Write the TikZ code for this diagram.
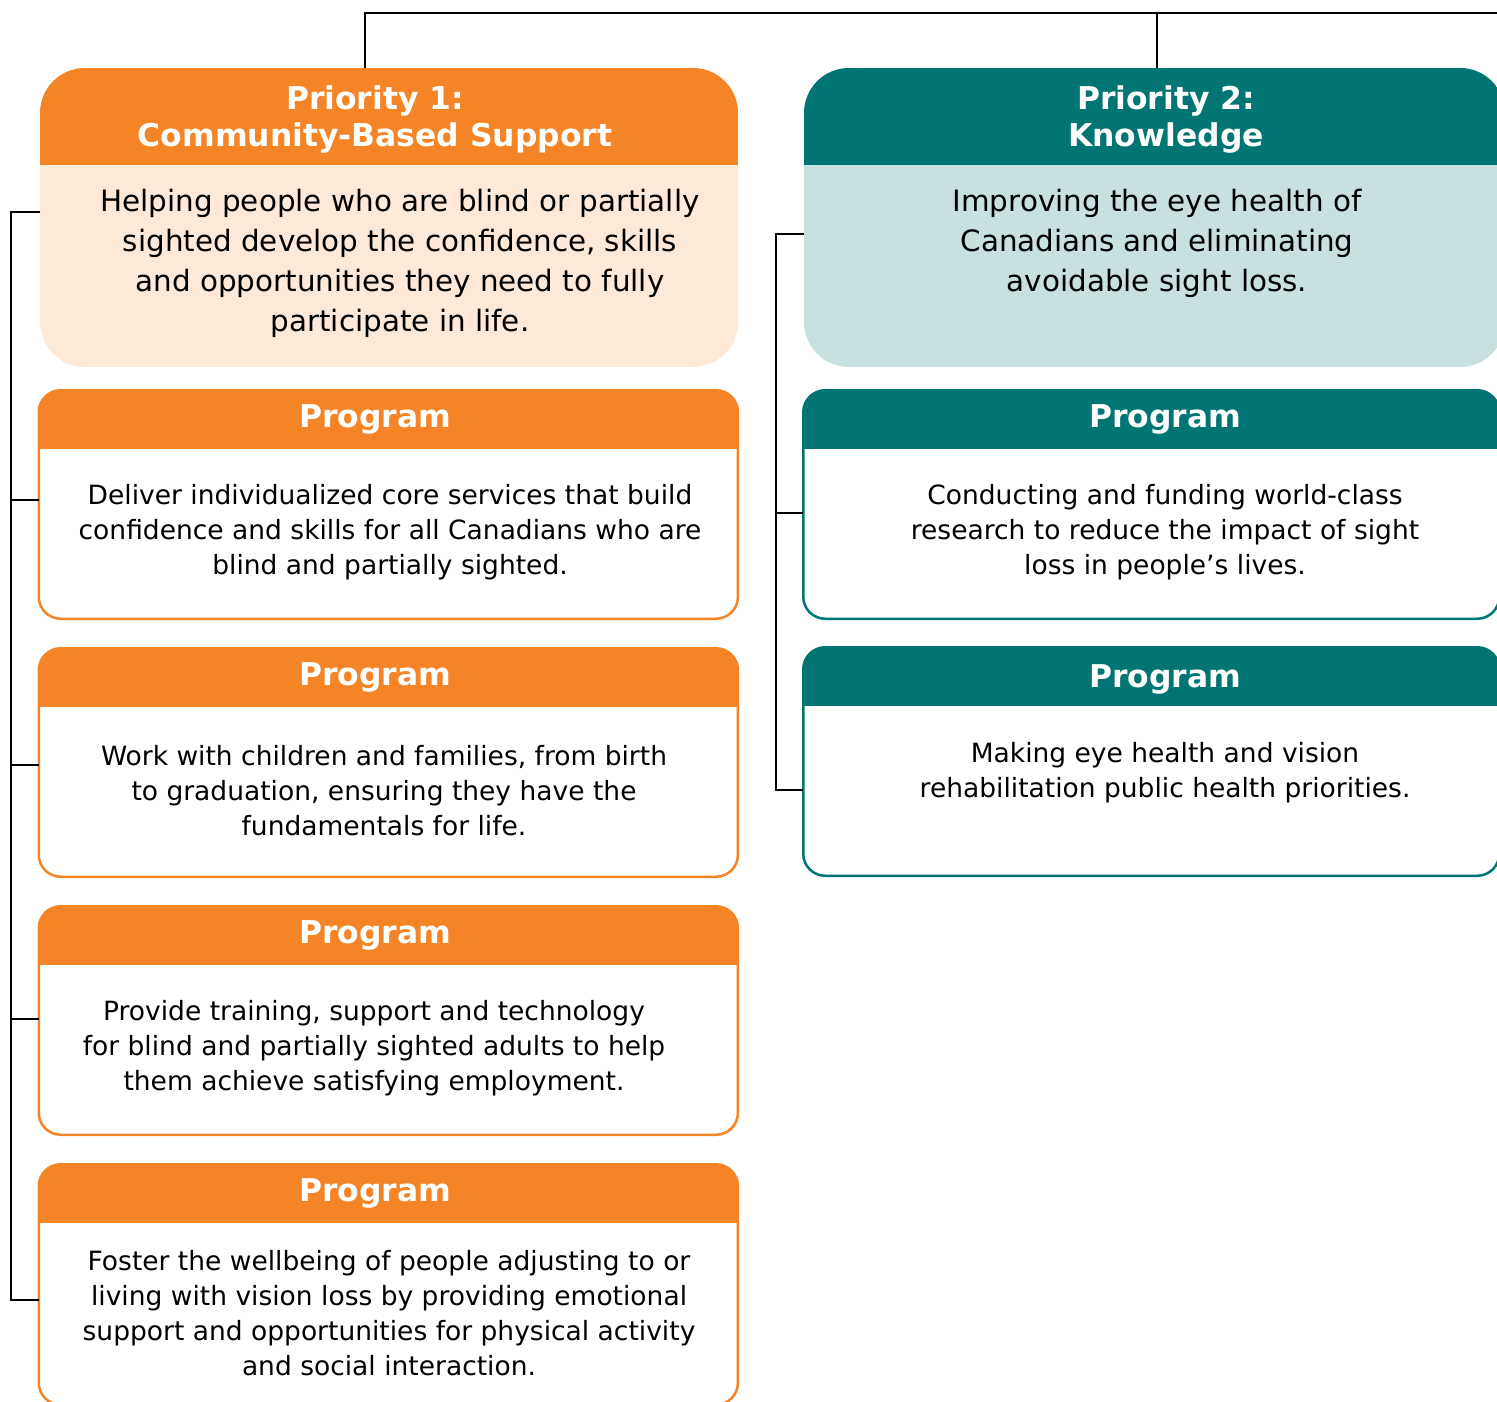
\documentclass[tikz,border=0pt]{standalone}
\usepackage{fontspec}
\setmainfont{DejaVu Sans}
\definecolor{cor}{HTML}{F48426}
\definecolor{cpeach}{HTML}{FEE8D8}
\definecolor{cteal}{HTML}{007574}
\definecolor{clteal}{HTML}{C8E0E0}
\tikzset{
  conn/.style={draw=black, line width=1pt},
  hdr/.style={text=white, font=\bfseries\fontsize{15.7}{18.6}\selectfont, align=center, inner sep=0pt},
  pbody/.style={text=black, font=\fontsize{14.7}{20}\selectfont, align=center, inner sep=0pt},
  gbody/.style={text=black, font=\fontsize{13.25}{17.5}\selectfont, align=center, inner sep=0pt},
  prbox/.style n args={2}{fill=#2, rounded corners=22.5pt, minimum width=349pt, minimum height=149.5pt, inner sep=0pt, outer sep=0pt, anchor=north west,
    path picture={\fill[#1, sharp corners] (path picture bounding box.north west) rectangle ([yshift=-48.5pt]path picture bounding box.north east);}},
  pgbox/.style={draw=#1, line width=1.25pt, fill=white, rounded corners=11pt, minimum width=349.6pt, minimum height=114.25pt, inner sep=0pt, outer sep=0pt, anchor=north west,
    path picture={\fill[#1, sharp corners] ([shift={(-2pt,2pt)}]path picture bounding box.north west) rectangle ([shift={(2pt,-29.4pt)}]path picture bounding box.north east);}},
}
\begin{document}
\begin{tikzpicture}[x=0.5pt,y=-0.5pt]
\useasboundingbox (0,0) rectangle (1497,1401);
\clip (0,0) rectangle (1497,1401);

% priority boxes
\node[prbox={cor}{cpeach}] (pr1) at (40,68) {};
\node[prbox={cteal}{clteal}, minimum width=350.5pt] (pr2) at (804,68) {};

% program boxes left
\node[pgbox=cor] (g1) at (38.75,390.25) {};
\node[pgbox=cor] (g2) at (38.75,648.25) {};
\node[pgbox=cor] (g3) at (38.75,906.25) {};
\node[pgbox=cor, minimum height=120.25pt] (g4) at (38.75,1164.25) {};
% program boxes right
\node[pgbox=cteal, minimum width=348pt] (h1) at (803.25,390.25) {};
\node[pgbox=cteal, minimum width=348pt] (h2) at (803.25,647.25) {};

% texts
\node[hdr] (pr1h) at (375,119.5) {Priority 1:\\Community-Based Support};
\node[pbody] (pr1b) at (400,263) {Helping people who are blind or partially\\sighted develop the confidence, skills\\and opportunities they need to fully\\participate in life.};
\node[hdr] (pr2h) at (1166,119.5) {Priority 2:\\Knowledge};
\node[pbody] (pr2b) at (1157,243) {Improving the eye health of\\Canadians and eliminating\\avoidable sight loss.};

\node[hdr] (g1h) at (375,419) {Program};
\node[hdr] (g2h) at (375,677) {Program};
\node[hdr] (g3h) at (375,935) {Program};
\node[hdr] (g4h) at (375,1193) {Program};
\node[hdr] (h1h) at (1165,419) {Program};
\node[hdr] (h2h) at (1165,679) {Program};

\node[gbody] (g1b) at (390,532.5) {Deliver individualized core services that build\\confidence and skills for all Canadians who are\\blind and partially sighted.};
\node[gbody] (g2b) at (384,790.5) {Work with children and families, from birth\\to graduation, ensuring they have the\\fundamentals for life.};
\node[gbody] (g3b) at (374,1048.5) {Provide training, support and technology\\for blind and partially sighted adults to help\\them achieve satisfying employment.};
\node[gbody] (g4b) at (389,1313) {Foster the wellbeing of people adjusting to or\\living with vision loss by providing emotional\\support and opportunities for physical activity\\and social interaction.};
\node[gbody] (h1b) at (1165,532.5) {Conducting and funding world-class\\research to reduce the impact of sight\\loss in people’s lives.};
\node[gbody] (h2b) at (1165,773) {Making eye health and vision\\rehabilitation public health priorities.};

% connectors
\coordinate (t1) at (365,13);
\coordinate (t2) at (1157,13);
\coordinate (tend) at (1510,13);
\draw[conn] (t1 |- pr1.north) -- (t1) -- (tend);
\draw[conn] (t2) -- (t2 |- pr2.north);

\coordinate (lb1) at (11,212);
\coordinate (lb2) at (11,500);
\coordinate (lb3) at (11,765);
\coordinate (lb4) at (11,1019);
\coordinate (lb5) at (11,1300);
\draw[conn] (lb1 -| pr1.west) -- (lb1) -- (lb5) -- (lb5 -| g4.west);
\draw[conn] (lb2) -- (lb2 -| g1.west);
\draw[conn] (lb3) -- (lb3 -| g2.west);
\draw[conn] (lb4) -- (lb4 -| g3.west);

\coordinate (rb1) at (776,234);
\coordinate (rb2) at (776,513);
\coordinate (rb3) at (776,790);
\draw[conn] (rb1 -| pr2.west) -- (rb1) -- (rb3) -- (rb3 -| h2.west);
\draw[conn] (rb2) -- (rb2 -| h1.west);
\end{tikzpicture}
\end{document}
